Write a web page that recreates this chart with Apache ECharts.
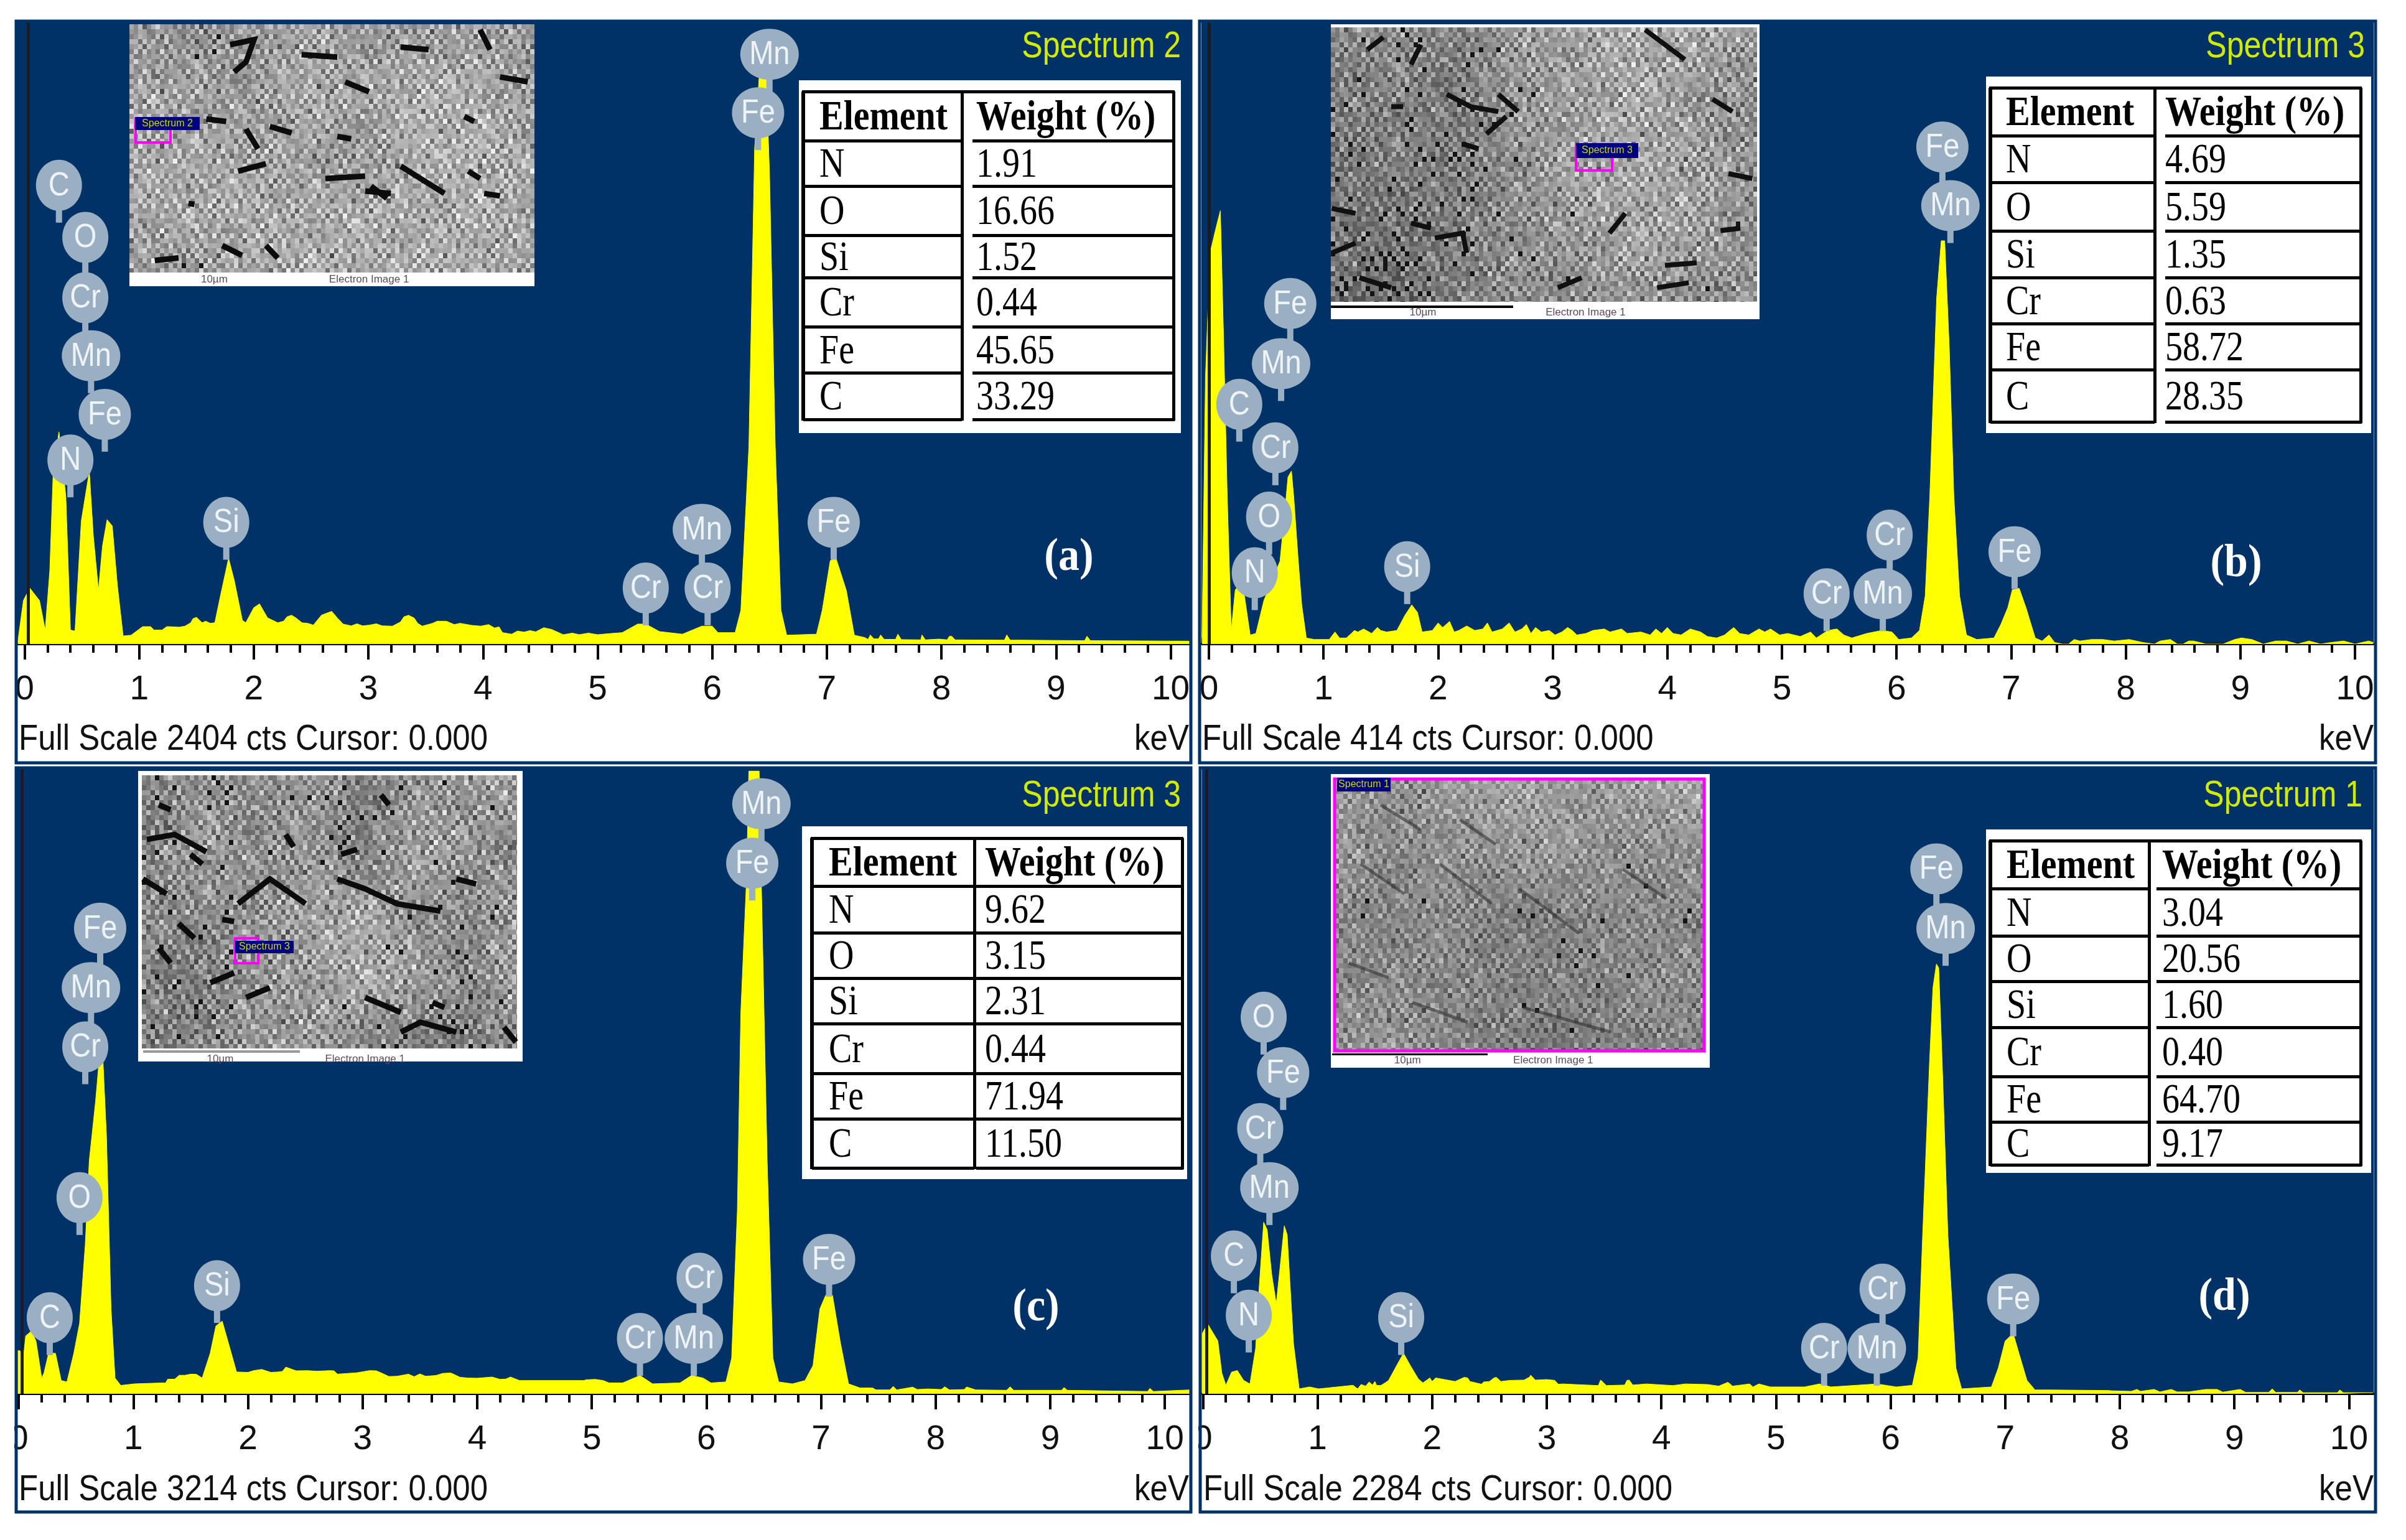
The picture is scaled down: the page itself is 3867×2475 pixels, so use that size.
<!DOCTYPE html>
<html><head><meta charset="utf-8">
<style>html,body{margin:0;padding:0;background:#fff}#c{width:3867px;height:2475px}</style>
<script src="https://cdn.jsdelivr.net/npm/echarts@6/dist/echarts.min.js"></script>
</head><body><div id="c"></div>
<script>
// ---------- data ----------
const elements = ['N','O','Si','Cr','Fe','C'];
const weightA = ['1.91','16.66','1.52','0.44','45.65','33.29'];
const weightB = ['4.69','5.59','1.35','0.63','58.72','28.35'];
const weightC = ['9.62','3.15','2.31','0.44','71.94','11.50'];
const weightD = ['3.04','20.56','1.60','0.40','64.70','9.17'];
const tickLabels = [0,1,2,3,4,5,6,7,8,9,10];

const kevA = [-0.06,-0.01,0.045,0.13,0.18,0.22,0.25,0.30,0.36,0.40,0.44,0.495,0.565,0.60,0.645,0.68,0.72,0.765,0.81,0.86,0.93,1.03,1.14,1.26,1.40,1.50,1.55,1.66,1.71,1.78,1.83,1.90,1.93,2.00,2.05,2.12,2.21,2.33,2.42,2.52,2.59,2.68,2.78,3.01,3.21,3.35,3.47,3.68,3.98,4.17,4.53,4.63,5.215,5.35,5.42,5.54,5.74,5.91,6.00,6.05,6.20,6.25,6.32,6.37,6.41,6.47,6.50,6.55,6.60,6.65,6.91,6.96,7.03,7.08,7.17,7.24,7.33,7.98,8.68,10.17];
const ctsA = [6,168,216,168,54,283,666,819,570,54,50,475,666,417,207,379,480,456,226,31,34,67,54,67,69,103,82,82,188,331,245,92,82,140,155,101,82,111,82,73,111,126,77,73,69,111,69,88,69,44,63,50,44,77,77,48,38,69,69,44,44,130,762,1911,2192,2192,1815,762,130,34,38,130,322,331,207,34,25,19,15,11];
const bumpsA = [[1.10,67],[1.13,54],[1.20,54],[1.24,67],[1.35,65],[1.45,82],[1.47,98],[1.53,90],[1.58,88],[1.62,80],[2.26,88],[2.29,105],[2.37,100],[2.47,80],[2.63,118],[2.73,100],[2.85,70],[2.90,78],[2.95,70],[3.07,78],[3.12,70],[3.28,85],[3.31,105],[3.40,100],[3.43,80],[3.56,80],[3.60,88],[3.75,75],[3.80,80],[3.90,72],[4.05,75],[4.10,62],[4.14,66],[4.25,38],[4.30,50],[4.36,46],[4.41,52],[4.46,47],[4.60,56],[4.70,36],[4.78,42],[4.84,36],[4.92,42],[5.00,36],[5.10,40],[7.36,18],[7.38,35],[7.41,20],[7.45,20],[7.47,35],[7.50,18],[7.60,18],[7.62,38],[7.65,17],[7.82,16],[7.83,35],[7.86,16],[8.05,16],[8.07,30],[8.09,30],[8.12,16],[8.55,15],[8.57,35],[8.60,15],[9.25,13],[9.27,30],[9.30,13]];

const kevB = [-0.06,-0.03,0.01,0.06,0.10,0.13,0.16,0.195,0.23,0.265,0.31,0.36,0.41,0.48,0.55,0.62,0.655,0.69,0.72,0.74,0.78,0.81,0.85,0.92,1.14,1.30,1.50,1.64,1.71,1.77,1.82,1.86,2.04,2.18,2.39,2.56,2.73,2.85,3.08,3.17,3.29,3.77,4.12,4.29,4.43,4.53,4.71,4.85,4.98,5.16,5.40,5.54,5.61,5.74,5.87,5.96,6.02,6.13,6.20,6.25,6.29,6.35,6.39,6.42,6.46,6.50,6.55,6.61,6.70,6.85,6.91,6.97,7.01,7.07,7.13,7.21,7.27,7.33,7.38,7.70,8.03,8.15,8.39,8.59,9.01,9.31,9.79,10.12,10.16];
const ctsB = [4,177,260,276,288,197,98,9,36,39,32,6,7,29,42,55,82,111,115,98,55,26,4,3,4,8,9,9,19,26,21,8,11,9,10,10,10,11,8,9,7,8,6,8,4,8,6,8,6,5,9,6,4,7,9,8,3,4,9,32,98,230,268,268,197,98,32,6,3,4,13,24,36,37,24,4,2,6,1,3,3,1,3,2,4,2,1,2,1];
const bumpsB = [[1.05,3],[1.10,8],[1.20,4],[1.27,9],[1.35,10],[1.42,7],[1.47,11],[1.55,8],[1.95,9],[2.00,14],[2.10,15],[2.14,8],[2.25,12],[2.32,9],[2.43,14],[2.47,8],[2.62,14],[2.67,8],[2.77,13],[2.81,7],[2.90,8],[2.97,9],[3.02,6],[3.13,11],[3.21,6],[3.35,9],[3.45,10],[3.50,8],[3.60,10],[3.65,7],[3.85,6],[3.90,10],[3.95,7],[4.00,11],[4.05,7],[4.20,10],[4.35,5],[4.50,6],[4.58,11],[4.63,7],[4.80,10],[4.90,10],[5.05,7],[5.25,8],[5.30,4],[5.48,10],[7.45,0],[7.50,0],[7.55,3],[7.60,2],[7.80,3],[7.90,2],[8.25,0],[8.30,2],[8.45,0],[8.50,0],[8.55,2],[8.70,0],[8.85,0],[8.95,3],[9.10,3],[9.20,0],[9.40,2],[9.50,0],[9.60,2],[9.70,0],[9.90,2],[10.0,0]];

const kevC = [-0.01,0.01,0.04,0.06,0.11,0.15,0.20,0.22,0.26,0.32,0.37,0.42,0.48,0.53,0.58,0.615,0.67,0.70,0.735,0.765,0.805,0.84,0.89,1.01,1.255,1.31,1.50,1.60,1.67,1.72,1.775,1.83,1.90,2.05,2.26,2.33,2.52,2.71,2.78,3.06,3.23,3.40,3.64,3.77,3.92,4.13,4.20,4.29,4.37,4.93,5.03,5.27,5.42,5.53,5.77,5.87,5.97,6.04,6.17,6.22,6.27,6.30,6.35,6.37,6.46,6.48,6.53,6.58,6.63,6.75,6.86,6.93,6.99,7.04,7.10,7.17,7.24,7.34,7.93,8.73,10.22];
const ctsC = [221,221,183,297,322,271,81,107,208,208,68,61,208,360,766,1197,1502,1705,1705,1324,436,81,43,51,56,81,101,81,208,348,373,259,112,119,112,137,119,119,101,119,89,101,94,107,81,86,74,86,68,68,74,56,94,51,56,94,81,56,61,183,944,1958,2644,3197,3197,2593,1197,183,61,51,68,145,436,505,505,259,51,30,25,18,20];
const bumpsC = [[1.28,55],[1.30,75],[1.36,75],[1.40,95],[1.45,95],[1.55,100],[2.00,110],[2.12,125],[2.20,110],[2.30,115],[2.42,118],[2.60,116],[2.75,118],[2.95,108],[3.12,118],[3.16,108],[3.30,90],[3.45,88],[3.50,102],[3.55,90],[3.70,105],[3.85,85],[4.00,80],[4.25,76],[4.50,68],[4.95,72],[5.10,68],[5.15,56],[7.45,30],[7.48,20],[7.60,20],[7.63,38],[7.66,20],[7.80,34],[7.84,22],[8.05,22],[8.08,36],[8.12,20],[8.25,22],[8.27,35],[8.35,20],[8.62,18],[8.65,36],[8.68,18],[9.10,18],[9.12,32],[9.15,18],[9.85,12],[9.87,28],[9.90,12]];

const kevD = [-0.008,-0.005,0.04,0.13,0.165,0.20,0.25,0.30,0.355,0.41,0.46,0.49,0.53,0.56,0.60,0.64,0.68,0.71,0.735,0.79,0.84,0.93,1.01,1.31,1.45,1.515,1.62,1.69,1.75,1.81,1.88,2.03,2.31,2.45,2.54,2.68,2.85,3.07,3.14,3.49,3.70,3.87,4.21,4.60,4.77,4.80,5.25,5.38,5.48,5.88,6.05,6.19,6.24,6.28,6.34,6.37,6.40,6.42,6.45,6.50,6.57,6.62,6.88,6.94,7.00,7.07,7.12,7.19,7.26,7.93,8.60,10.21];
const ctsD = [4,220,256,193,76,31,79,85,49,36,166,382,626,599,436,328,490,613,580,184,18,25,18,31,43,31,49,103,148,103,54,58,58,43,58,49,61,49,36,43,49,36,36,36,36,25,25,36,25,36,25,31,130,580,1211,1482,1568,1554,1211,580,94,18,25,94,193,220,148,49,14,11,7,4];
const bumpsD = [[1.35,18],[1.38,34],[1.42,28],[1.48,32],[1.50,45],[1.55,30],[1.59,40],[1.92,40],[1.98,58],[2.00,45],[2.20,45],[2.28,60],[2.33,45],[2.43,35],[2.50,45],[2.56,60],[2.60,45],[2.80,50],[2.86,68],[2.90,50],[3.00,52],[3.10,35],[3.45,30],[3.47,50],[3.52,30],[3.68,32],[3.72,50],[3.75,32],[4.10,30],[4.40,34],[4.50,28],[4.58,42],[4.62,28],[4.85,36],[4.95,25],[7.40,14],[7.90,12],[8.10,9],[8.15,16],[8.18,9],[8.30,16],[8.35,7],[8.45,16],[8.50,7],[8.75,16],[8.85,16],[8.90,6],[9.05,16],[9.10,5],[9.30,5],[9.33,18],[9.36,5],[9.55,5],[9.57,14],[9.60,4],[9.90,4],[9.92,14],[9.95,4]];

const marksA = [['C',0.30,1780],['O',0.53,1579],['Cr',0.53,1346],['Mn',0.58,1122],['Fe',0.70,896],['N',0.40,720],['Si',1.76,479],['Cr',5.42,226],['Mn',5.91,452],['Cr',5.96,226],['Mn',6.50,2286],['Fe',6.40,2060],['Fe',7.06,479]];
const marksB = [['Fe',0.71,228],['Mn',0.63,188],['C',0.265,161],['Cr',0.58,132],['O',0.525,86],['N',0.40,49],['Si',1.73,53],['Cr',5.39,35],['Cr',5.94,74],['Mn',5.88,35],['Fe',6.40,332],['Mn',6.47,293],['Fe',7.03,63]];
const marksC = [['Fe',0.71,2403],['Mn',0.63,2098],['Cr',0.58,1794],['O',0.53,1020],['C',0.27,403],['Si',1.73,568],['Cr',5.42,297],['Cr',5.94,606],['Mn',5.89,297],['Mn',6.48,3042],['Fe',6.40,2737],['Fe',7.07,703]];
const marksD = [['O',0.53,1383],['Fe',0.70,1181],['Cr',0.50,977],['Mn',0.58,761],['C',0.27,512],['N',0.40,296],['Si',1.73,287],['Cr',5.42,175],['Cr',5.93,391],['Mn',5.88,175],['Fe',6.40,1924],['Mn',6.48,1707],['Fe',7.07,355]];

// ---------- layout ----------
const NAVY='#003268', YEL='#ffff00', BUB='#9bafc3', TITLE='#d0ea00';
const serif='"Liberation Serif"', sans='"Liberation Sans"';
const panels = [
 {kev:kevA,cts:ctsA,bumps:bumpsA,marks:marksA,fs:2404,weights:weightA,title:'Spectrum 2',letter:'(a)',
  left:28,right:1912,top:34,base:1035,x0:39.5,cursor:0.028,ox:24,ow:1892,oy:34,oh:1192,
  foot:1185,titleX:1898,titleY:72,letX:1718,letY:895,footLeft:30,
  tb:{x:1284,y:129,w:614,h:567,top:147,rows:[226,299,378,446,525,599,674],l:1291,c:1546,c2:1563,r:1886,tx:1317,vx:1569}},
 {kev:kevB,cts:ctsB,bumps:bumpsB,marks:marksB,fs:414,weights:weightB,title:'Spectrum 3',letter:'(b)',
  left:1931,right:3815,top:34,base:1035,x0:1943,cursor:0,ox:1926,ow:1894,oy:34,oh:1192,
  foot:1185,titleX:3801,titleY:72,letX:3594,letY:905,footLeft:1932,
  tb:{x:3192,y:123,w:619,h:573,top:141,rows:[218,293,371,446,520,594,678],l:3199,c:3463,c2:3480,r:3794,tx:3224,vx:3480}},
 {kev:kevC,cts:ctsC,bumps:bumpsC,marks:marksC,fs:3214,weights:weightC,title:'Spectrum 3',letter:'(c)',
  left:28,right:1912,top:1234,base:2240,x0:30.2,cursor:0.03,ox:24,ow:1892,oy:1234,oh:1196,
  foot:2391,titleX:1898,titleY:1276,letX:1665,letY:2101,footLeft:30,
  tb:{x:1289,y:1328,w:619,h:567,top:1347,rows:[1424,1499,1572,1645,1725,1798,1877],l:1305,c:1566,c2:1569,r:1900,tx:1332,vx:1583}},
 {kev:kevD,cts:ctsD,bumps:bumpsD,marks:marksD,fs:2284,weights:weightD,title:'Spectrum 1',letter:'(d)',
  left:1932,right:3815,top:1234,base:2240,x0:1933.4,cursor:0.033,ox:1927,ow:1893,oy:1234,oh:1196,
  foot:2391,titleX:3797,titleY:1276,letX:3575,letY:2084,footLeft:1934,
  tb:{x:3192,y:1333,w:619,h:552,top:1351,rows:[1428,1504,1577,1651,1730,1803,1872],l:3199,c:3454,c2:3466,r:3794,tx:3225,vx:3475}}
];
const PX_PER_KEV=184.2;
const minorVals=[]; for(let i=0;i<=50;i++){ if(i%5) minorVals.push(i/5); }

// hand-typed grey speckle for the micrograph insets
const tile=[
[168,142,191,120,176,150,205,132,160,186,108,172,146],
[131,184,158,196,96,168,140,178,122,198,150,130,184],
[176,112,204,148,170,128,190,84,174,142,188,160,118],
[150,190,126,178,138,212,114,164,200,124,156,192,140],
[198,134,166,100,186,156,172,146,118,182,134,172,106],
[124,178,144,194,122,182,92,196,160,140,208,128,176],
[182,156,92,170,150,132,188,126,176,110,166,148,192],
[138,200,174,128,208,116,160,180,138,194,124,182,134],
[164,120,186,152,110,176,140,206,96,168,152,114,170],
[190,146,128,202,164,134,194,118,184,130,198,162,126],
[112,172,160,136,184,150,104,170,146,188,120,178,154]];
function micrograph(w,h,tone,gain){
 const c=document.createElement('canvas');c.width=w;c.height=h;const g=c.getContext('2d');
 const cols=Math.ceil(w/7),rows=Math.ceil(h/8);
 for(let j=0;j<rows;j++)for(let i=0;i<cols;i++){
  const fy=j/rows*4, fx=i/cols*7, y0=Math.floor(fy), x0=Math.floor(fx), y1=Math.min(4,y0+1), x1=Math.min(7,x0+1), dy=fy-y0, dx=fx-x0;
  const t=(tone[y0][x0]*(1-dx)+tone[y0][x1]*dx)*(1-dy)+(tone[y1][x0]*(1-dx)+tone[y1][x1]*dx)*dy;
  const a=tile[j%11][i%13]-155,b=tile[(j*3+i)%11][(i*2+j)%13]-155;
  let v=t+gain*(0.85*a+0.65*b);
  if(v<70)v=20; v=Math.max(0,Math.min(240,Math.round(v)));
  g.fillStyle='rgb('+v+','+v+','+v+')';g.fillRect(i*7,j*8,7,8);
 }
 return c;
}

// inset frames and the darker features seen in each micrograph (picture geometry, not chart data)
const insets=[
 {x:208,y:39,w:651,h:421,ix:208,iy:39,iw:651,ih:399,sx:1.568,sy:1.2544,ox:0,oy:0,lw:9,col:'#0c0c0c',gain:1,
  tone:[[150,140,150,165,150,150,160,150],[165,160,150,170,165,175,170,150],[170,165,165,160,150,175,175,165],[165,170,170,165,175,165,175,165],[150,150,165,175,165,175,165,160]],
  box:[217,188,104,21],mag:[218,191,56,38],spec:'Spectrum 2',cap:[[540,563],[930,563]],
  strokes:[[580,90,640,80,620,125,590,145],[760,110,850,115],[1010,95,1080,100],[1210,60,1235,100],[1260,155,1330,165],[870,165,930,185],[520,240,570,245],[1170,235,1195,245],[680,255,735,268],[850,275,885,280],[600,345,670,330],[820,360,920,355],[920,385,985,390],[935,375,975,400],[1010,335,1060,360,1120,390],[475,410,490,412],[560,495,610,515],[670,495,700,520],[390,525,450,520],[1220,390,1260,395],[1180,345,1210,360],[620,260,650,300]]},
 {x:2139,y:39,w:689,h:474,ix:2139,iy:44,iw:685,ih:441,sx:1.568,sy:1.2544,ox:2000,oy:0,lw:8,col:'#101010',gain:1,
  tone:[[130,140,125,150,160,170,165,155],[125,130,120,150,155,170,150,140],[115,125,120,140,165,165,160,145],[120,110,125,140,150,165,160,135],[105,100,125,140,135,150,130,160]],
  box:[2533,230,100,24],mag:[2533,235,58,39],bar:[2139,491,293,4],spec:'Spectrum 3',cap:[[450,630],[860,630]],
  strokes:[[310,100,350,75],[420,130,445,90],[510,190,570,215,640,225],[640,190,690,225],[610,270,660,235],[370,215,400,215],[550,290,590,300],[480,480,550,470,560,510],[420,450,470,460],[220,420,280,430],[220,510,280,490],[290,560,370,580],[1110,120,1010,60],[790,580,850,560],[1060,535,1140,530],[1200,465,1250,460],[1220,350,1280,360],[920,470,960,430],[1040,580,1120,570],[1180,200,1230,225]]},
 {x:222,y:1239,w:618,h:467,ix:228,iy:1246,iw:603,ih:439,sx:1.568,sy:1.2594,ox:0,oy:1230,lw:9,col:'#0c0c0c',gain:1.05,
  tone:[[125,140,135,150,125,140,150,165],[125,160,140,150,120,165,150,130],[140,135,145,160,170,140,135,160],[130,120,150,150,170,160,130,165],[125,130,150,155,130,115,120,135]],
  box:[378,1512,94,20],mag:[378,1508,37,40],bar:[230,1688,252,4],barCol:'#999',spec:'Spectrum 3',cap:[[555,595],[920,595]],
  strokes:[[370,150,440,140,520,175],[480,180,510,200],[360,230,420,260],[600,280,680,230,770,280],[560,312,590,316],[450,320,490,350],[400,370,430,400],[530,440,590,420],[620,470,680,450],[860,180,900,170],[850,230,920,250,1000,280,1110,295],[960,60,980,80],[1150,230,1200,240],[920,470,1010,500],[1010,540,1060,520,1150,540],[1270,530,1300,560],[1090,480,1120,490],[400,80,430,90],[720,140,740,165]]},
 {x:2139,y:1244,w:609,h:472,ix:2145,iy:1252,iw:594,ih:437,sx:1.568,sy:1.2594,ox:1900,oy:1230,lw:5,col:'rgba(50,50,50,0.6)',gain:0.8,
  tone:[[150,145,150,165,155,150,165,165],[155,135,145,145,155,145,140,150],[135,130,140,125,125,135,135,130],[135,140,135,130,130,130,140,140],[145,150,135,125,115,125,130,125]],
  border:true,box:[2149,1250,86,22],bar:[2141,1693,250,3],spec:'Spectrum 1',cap:[[568,597],[935,597]],
  strokes:[[450,200,560,260],[650,200,780,280],[850,250,1000,340],[580,480,720,520],[860,490,1080,540],[1110,210,1220,270],[500,80,600,130],[700,110,790,160],[420,400,520,430]]}
];
const scaleCaptions=['10µm','Electron Image 1'];

// ---------- build ----------
const graphic=[], grids=[], xAxes=[], yAxes=[], series=[];
function txt(x,y,text,font,size,fill,o){o=o||{};
 graphic.push({type:'text',x:x,y:y+(o.dy||0),z:o.z||12,scaleY:o.sy||1,silent:true,
  style:{text:text,fontFamily:font,fontSize:size,fontWeight:o.w||'normal',fill:fill,align:o.a||'left',verticalAlign:'middle'}});}
function rect(x,y,w,h,fill,z){graphic.push({type:'rect',z:z||10,silent:true,shape:{x:x,y:y,width:w,height:h},style:{fill:fill}});}

insets.forEach(n=>{
 rect(n.x,n.y,n.w,n.h,'#fff',10);
 graphic.push({type:'image',z:10,silent:true,x:n.ix,y:n.iy,style:{image:micrograph(n.iw,n.ih,n.tone,n.gain),x:0,y:0,width:n.iw,height:n.ih}});
 n.strokes.forEach(s=>{const pts=[];for(let i=0;i<s.length;i+=2)pts.push([n.ox+s[i]/n.sx,n.oy+s[i+1]/n.sy]);
  graphic.push({type:'polyline',z:10,silent:true,shape:{points:pts},style:{stroke:n.col,lineWidth:n.lw,fill:'none'}});});
 if(n.bar) rect(n.bar[0],n.bar[1],n.bar[2],n.bar[3],n.barCol||'#000',10);
 if(n.mag) graphic.push({type:'rect',z:10,silent:true,shape:{x:n.mag[0],y:n.mag[1],width:n.mag[2],height:n.mag[3]},style:{fill:'none',stroke:'#f0f',lineWidth:4}});
 if(n.border) graphic.push({type:'rect',z:10,silent:true,shape:{x:n.ix,y:n.iy,width:n.iw,height:n.ih},style:{fill:'none',stroke:'#f0f',lineWidth:5}});
 rect(n.box[0],n.box[1],n.box[2],n.box[3],'#000080',11);
 txt(n.box[0]+n.box[2]/2,n.box[1]+n.box[3]/2,n.spec,sans,16,'#c8d800',{a:'center'});
 n.cap.forEach((c,k)=>txt(n.ox+c[0]/n.sx,n.oy+c[1]/n.sy,scaleCaptions[k],sans,17,'#5a4a5a',{a:'center'}));
});

panels.forEach((p,i)=>{
 const xmin=(p.left-p.x0)/PX_PER_KEV, xmax=(p.right-p.x0)/PX_PER_KEV;
 const points=p.kev.map((k,j)=>[k,p.cts[j]]).concat(p.bumps).sort((a,b)=>a[0]-b[0]);
 grids.push({left:p.left,top:p.top,width:p.right-p.left,height:p.base-p.top,show:true,backgroundColor:NAVY,borderWidth:0,containLabel:false});
 xAxes.push({gridIndex:i,type:'value',min:xmin,max:xmax,position:'bottom',splitLine:{show:false},
  axisLine:{show:true,onZero:false,lineStyle:{color:'#000',width:4}},
  axisTick:{show:true,length:25,customValues:tickLabels,lineStyle:{color:'#000',width:4}},
  axisLabel:{show:true,customValues:tickLabels,margin:46,fontFamily:sans,fontSize:55,color:'#111',hideOverlap:false}});
 xAxes.push({gridIndex:i,type:'value',min:xmin,max:xmax,position:'bottom',splitLine:{show:false},
  axisLine:{show:false},axisLabel:{show:false},
  axisTick:{show:true,length:14,customValues:minorVals,lineStyle:{color:'#000',width:4}}});
 yAxes.push({gridIndex:i,type:'value',min:0,max:p.fs,show:false});
 series.push({type:'line',xAxisIndex:i*2,yAxisIndex:i,showSymbol:false,silent:true,z:3,clip:true,
  data:points,
  lineStyle:{color:YEL,width:1},areaStyle:{color:YEL,opacity:1},
  markLine:{silent:true,symbol:'none',animation:false,label:{show:false},
   lineStyle:{color:'#1c1c1c',width:5,type:'solid'},data:[{xAxis:p.cursor}]}});
 series.push({type:'custom',xAxisIndex:i*2,yAxisIndex:i,z:30,silent:true,clip:false,
  data:p.marks.map(m=>[m[1],m[2]]),
  renderItem:(params,api)=>{
   const c=api.coord([api.value(0),api.value(1)]), el=p.marks[params.dataIndex][0];
   const rx=el==='Mn'?47:(el==='Fe'?42:37), ry=41, cy=c[1]+4;
   return {type:'group',children:[
    {type:'rect',shape:{x:c[0]-5,y:cy,width:10,height:ry+19},style:{fill:BUB}},
    {type:'ellipse',shape:{cx:c[0],cy:cy,rx:rx,ry:ry},style:{fill:BUB}},
    {type:'text',x:c[0],y:cy+1,scaleY:1.15,style:{text:el,fontFamily:sans,fontSize:47,fill:'#eef3f8',align:'center',verticalAlign:'middle'}}
   ]};
  }});

 // panel texts
 txt(p.titleX,p.titleY,p.title,sans,50,TITLE,{a:'right',sy:1.2,dy:3});
 txt(p.letX,p.letY,p.letter,serif,68,'#fff',{a:'center',w:'bold',sy:1.1,dy:2});
 txt(p.footLeft,p.foot,'Full Scale '+p.fs+' cts Cursor: 0.000',sans,51,'#111',{sy:1.12,dy:4});
 txt(p.ox+p.ow-5,p.foot,'keV',sans,51,'#111',{a:'right',sy:1.12,dy:4});

 // weight table
 const t=p.tb, L=5, r=t.rows;
 rect(t.x,t.y,t.w,t.h,'#fff',10);
 rect(t.l-2,t.top-2,t.r-t.l+4,L,'#000',11);
 r.forEach(y=>{rect(t.l,y-2,t.c-t.l,L,'#000',11);rect(t.c2,y-2,t.r-t.c2+2,L,'#000',11);});
 rect(t.l-3,t.top,L+1,r[6]-t.top+2,'#000',11);
 rect(t.c-2,t.top,L,r[6]-t.top+2,'#000',11);
 rect(t.r-2,t.top,L,r[6]-t.top+2,'#000',11);
 txt(t.tx,(t.top+r[0])/2,'Element',serif,58,'#000',{w:'bold',sy:1.18,dy:4});
 txt(t.vx,(t.top+r[0])/2,'Weight (%)',serif,58,'#000',{w:'bold',sy:1.18,dy:4});
 elements.forEach((e,j)=>{
  const yc=(r[j]+r[j+1])/2;
  txt(t.tx,yc,e,serif,56,'#000',{sy:1.2,dy:4});
  txt(t.vx,yc,p.weights[j],serif,56,'#000',{sy:1.2,dy:4});
 });
 // navy frame
 graphic.push({type:'rect',z:21,silent:true,shape:{x:p.ox+2,y:p.oy,width:p.ow-4,height:p.oh},style:{fill:'none',stroke:NAVY,lineWidth:5}});
});
// white gutters trim the half-hidden "0" labels at each panel's left edge
rect(0,1040,23,1400,'#fff',20);
rect(1917,1040,9,1400,'#fff',20);

const chart=echarts.init(document.getElementById('c'),null,{renderer:'canvas',width:3867,height:2475});
chart.setOption({animation:false,backgroundColor:'#fff',grid:grids,xAxis:xAxes,yAxis:yAxes,series:series,graphic:{elements:graphic}});
</script></body></html>
